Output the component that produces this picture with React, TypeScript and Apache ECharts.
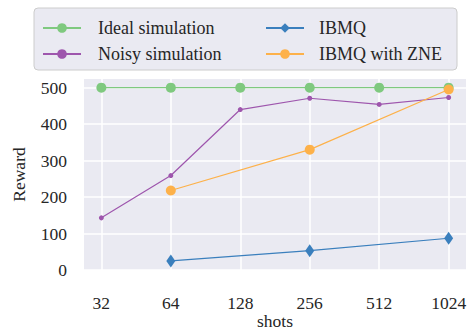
import React, { useEffect, useRef } from "react";
import * as echarts from "echarts";

const shots = [32, 64, 128, 256, 512, 1024];
const xPos = [5, 6, 7, 8, 9, 10];
const ideal = [500, 500, 500, 500, 500, 500];
const noisy = [143, 259, 440, 471, 454, 473];
const ibmqShots = [64, 256, 1024];
const ibmq = [25, 53, 87];
const zneShots = [64, 256, 1024];
const zne = [218, 330, 495];
const yTicks = [0, 100, 200, 300, 400, 500];

const FONT = "Liberation Serif";
const TXT = "#262626";

export default function App() {
  const ref = useRef<HTMLDivElement>(null);
  useEffect(() => {
    const chart = echarts.init(ref.current!, undefined, { renderer: "svg" });
    const toPairs = (xs: number[], ys: number[]) => xs.map((s, i) => [Math.log2(s), ys[i]]);
    const legendBase = {
      orient: "vertical",
      top: 14,
      itemWidth: 38,
      itemHeight: 12,
      itemGap: 8,
    };
    chart.setOption({
      animation: false,
      backgroundColor: "#ffffff",
      textStyle: { fontFamily: FONT },
      graphic: [
        {
          type: "rect",
          shape: { x: 34, y: 8, width: 423, height: 62, r: 4 },
          style: { fill: "#eaeaf2", stroke: "#cccccc", lineWidth: 1 },
          z: -1,
        },
      ],
      legend: [
        {
          ...legendBase,
          data: ["Ideal simulation", "Noisy simulation"],
          left: 37,
          textStyle: { fontFamily: FONT, fontSize: 18, color: TXT, padding: [0, 0, 0, 12] },
        },
        {
          ...legendBase,
          data: ["IBMQ", "IBMQ with ZNE"],
          left: 260,
          textStyle: { fontFamily: FONT, fontSize: 18, color: TXT, padding: [0, 0, 0, 10] },
        },
      ],
      grid: {
        left: 84,
        right: 3,
        top: 79,
        bottom: 59,
        containLabel: false,
        outerBoundsMode: "none",
        backgroundColor: "#eaeaf2",
        show: true,
        borderWidth: 0,
      },
      xAxis: {
        type: "value",
        min: 4.75,
        max: 10.25,
        name: "shots",
        nameLocation: "middle",
        nameGap: 43,
        nameMoveOverlap: false,
        nameTextStyle: { fontFamily: FONT, fontSize: 17.5, color: TXT, lineHeight: 15 },
        axisLine: { show: false },
        axisTick: { show: false, customValues: xPos },
        axisLabel: {
          customValues: xPos,
          formatter: (v: number) => String(shots[xPos.indexOf(Math.round(v))] ?? ""),
          fontFamily: FONT,
          fontSize: 17.5,
          color: TXT,
          margin: 24,
        },
        splitLine: { show: true, lineStyle: { color: "#ffffff", width: 1.5 } },
      },
      yAxis: {
        type: "value",
        min: 0,
        max: 523.75,
        name: "Reward",
        nameLocation: "middle",
        nameGap: 56,
        nameMoveOverlap: false,
        nameTextStyle: { fontFamily: FONT, fontSize: 17.5, color: TXT },
        axisLine: { show: false },
        axisTick: { show: false, customValues: yTicks },
        axisLabel: { customValues: yTicks, fontFamily: FONT, fontSize: 17.5, color: TXT, margin: 17 },
        splitLine: { show: true, lineStyle: { color: "#ffffff", width: 1.5 } },
      },
      series: [
        {
          name: "Ideal simulation",
          type: "line",
          data: toPairs(shots, ideal),
          symbol: "circle",
          symbolSize: 10,
          itemStyle: { color: "#7fc97f" },
          lineStyle: { color: "#7fc97f", width: 1.2 },
          z: 2,
        },
        {
          name: "Noisy simulation",
          type: "line",
          data: toPairs(shots, noisy),
          symbol: "circle",
          symbolSize: 5,
          itemStyle: { color: "#9e56ad" },
          lineStyle: { color: "#9e56ad", width: 1.2 },
          z: 3,
        },
        {
          name: "IBMQ",
          type: "line",
          data: toPairs(ibmqShots, ibmq),
          symbol: "diamond",
          symbolSize: [9, 13],
          itemStyle: { color: "#3a7fbd" },
          lineStyle: { color: "#3a7fbd", width: 1.2 },
          z: 4,
        },
        {
          name: "IBMQ with ZNE",
          type: "line",
          data: toPairs(zneShots, zne),
          symbol: "circle",
          symbolSize: 10,
          itemStyle: { color: "#fdb14a" },
          lineStyle: { color: "#fdb14a", width: 1.2 },
          z: 5,
        },
      ],
    });
    return () => chart.dispose();
  }, []);
  return <div ref={ref} style={{ width: 469, height: 329, position: "absolute", left: 0, top: 0 }} />;
}
